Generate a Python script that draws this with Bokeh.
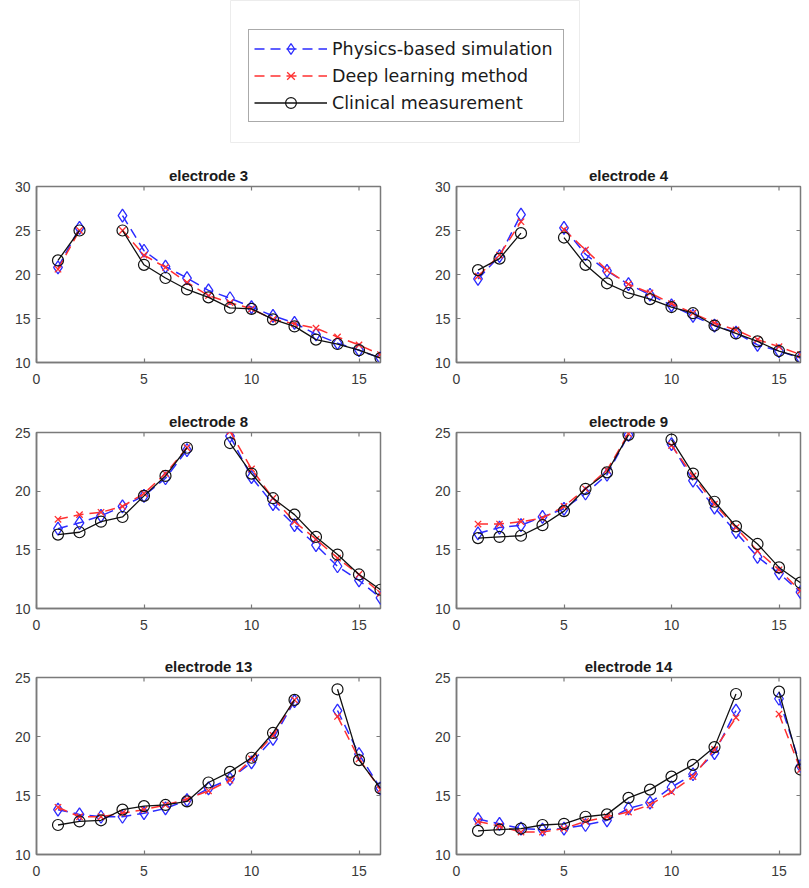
import math
from bokeh.plotting import figure
from bokeh.layouts import column, row, Spacer
from bokeh.models import Range1d, LinearAxis, FixedTicker, Legend, LegendItem
from bokeh.embed import file_html
from bokeh.resources import INLINE

nan = float("nan")

# ---------------- data ----------------
positions = list(range(1, 17))
x_ticks = [0, 5, 10, 15]

series_names = ["Physics-based simulation", "Deep learning method", "Clinical measurement"]

e3_sim  = [20.8, 25.3, nan, 26.7, 22.7, 20.9, 19.6, 18.2, 17.3, 16.3, 15.3, 14.5, 13.2, 12.2, 11.4, 10.5]
e3_dl   = [20.6, 25.0, nan, 25.0, 22.2, 20.8, 19.1, 17.6, 16.8, 16.1, 14.9, 14.4, 13.9, 12.9, 12.0, 10.9]
e3_meas = [21.6, 25.0, nan, 25.0, 21.1, 19.6, 18.3, 17.4, 16.2, 16.1, 14.9, 14.1, 12.6, 12.1, 11.4, 10.5]

e4_sim  = [19.5, 22.1, 26.8, nan, 25.3, 22.3, 20.4, 18.9, 17.7, 16.5, 15.3, 14.2, 13.4, 12.0, 11.3, 10.5]
e4_dl   = [19.8, 22.2, 26.0, nan, 25.1, 22.8, 20.5, 18.9, 17.9, 16.7, 15.6, 14.5, 13.7, 12.6, 11.8, 10.9]
e4_meas = [20.5, 21.8, 24.7, nan, 24.2, 21.1, 19.0, 17.9, 17.2, 16.3, 15.6, 14.2, 13.3, 12.4, 11.3, 10.6]

e8_sim  = [16.8, 17.3, 17.9, 18.7, 19.6, 21.1, 23.5, nan, 24.7, 21.2, 18.9, 17.1, 15.4, 13.6, 12.4, 10.9]
e8_dl   = [17.6, 18.0, 18.2, 18.7, 19.8, 21.5, 23.7, nan, 25.1, 21.9, 19.4, 17.4, 15.9, 14.3, 12.9, 11.3]
e8_meas = [16.3, 16.5, 17.4, 17.8, 19.6, 21.3, 23.7, nan, 24.1, 21.5, 19.4, 18.0, 16.1, 14.6, 12.9, 11.6]

e9_sim  = [16.4, 16.9, 17.1, 17.8, 18.5, 19.8, 21.4, 24.8, nan, 24.0, 20.9, 18.6, 16.5, 14.4, 13.0, 11.4]
e9_dl   = [17.2, 17.2, 17.4, 17.7, 18.7, 20.2, 21.8, 24.9, nan, 23.9, 21.3, 18.9, 16.9, 14.9, 13.3, 11.5]
e9_meas = [16.0, 16.1, 16.2, 17.1, 18.3, 20.2, 21.6, 24.8, nan, 24.4, 21.5, 19.1, 17.0, 15.5, 13.5, 12.2]

e13_sim  = [13.8, 13.4, 13.2, 13.2, 13.5, 13.9, 14.6, 15.6, 16.4, 17.8, 19.8, 23.0, nan, 22.2, 18.5, 15.6]
e13_dl   = [14.0, 13.2, 13.2, 13.5, 13.8, 14.2, 14.7, 15.4, 16.3, 18.1, 20.1, 23.1, nan, 21.7, 18.1, 15.5]
e13_meas = [12.5, 12.8, 12.9, 13.8, 14.1, 14.2, 14.5, 16.1, 17.0, 18.2, 20.3, 23.1, nan, 24.0, 18.0, 15.6]

e14_sim  = [13.0, 12.6, 12.2, 12.1, 12.2, 12.5, 12.9, 13.9, 14.4, 15.7, 16.8, 18.6, 22.2, nan, 23.2, 17.5]
e14_dl   = [12.8, 12.4, 11.9, 11.9, 12.2, 12.8, 13.2, 13.6, 14.2, 15.3, 16.6, 18.9, 21.6, nan, 21.9, 17.2]
e14_meas = [12.0, 12.1, 12.2, 12.5, 12.6, 13.2, 13.4, 14.8, 15.5, 16.6, 17.6, 19.1, 23.6, nan, 23.8, 17.2]

# ---------------- styles ----------------
SIM_COLOR = "#2b2bff"
DL_COLOR = "#ff3030"
MEAS_COLOR = "#111111"
AXIS_COLOR = "#7a7a7a"
LABEL_COLOR = "#3a3a3a"
FONT = "Liberation Sans"
X_MIN, X_MAX, Y_MIN = 0, 16, 10


def style_axis(ax, standoff):
    ax.axis_line_color = AXIS_COLOR
    ax.axis_line_width = 1.5
    ax.major_tick_line_color = AXIS_COLOR
    ax.major_tick_line_width = 1.2
    ax.major_tick_in = 4
    ax.major_tick_out = 0
    ax.minor_tick_line_color = None
    ax.major_label_text_font = FONT
    ax.major_label_text_color = LABEL_COLOR
    ax.major_label_text_font_size = "14px"
    ax.major_label_standoff = standoff


def make_panel(title, sim, dl, meas, ymax, width, height, bl, br, bt, bb):
    p = figure(width=width, height=height,
               x_range=Range1d(X_MIN, X_MAX), y_range=Range1d(Y_MIN, ymax),
               output_backend="svg", toolbar_location=None,
               x_axis_location=None, y_axis_location=None,
               min_border_left=bl, min_border_right=br,
               min_border_top=bt, min_border_bottom=bb)
    p.grid.visible = False
    p.outline_line_color = AXIS_COLOR
    p.outline_line_width = 1.5
    p.background_fill_color = "white"
    p.border_fill_color = "white"

    yt = list(range(Y_MIN, ymax + 1, 5))
    xa = LinearAxis(ticker=FixedTicker(ticks=x_ticks))
    style_axis(xa, 11)
    p.add_layout(xa, "below")
    ya = LinearAxis(ticker=FixedTicker(ticks=yt))
    style_axis(ya, 6)
    p.add_layout(ya, "left")

    # mirrored inward ticks on top and right edges (half of each dash is clipped by the frame)
    p.scatter(x_ticks, [ymax] * len(x_ticks), marker="dash", angle=math.pi / 2, size=8,
              line_color=AXIS_COLOR, line_width=1.2)
    p.scatter([X_MAX] * len(yt), yt, marker="dash", size=8,
              line_color=AXIS_COLOR, line_width=1.2)

    p.title.text = title
    p.title.align = "center"
    p.title.text_font = FONT
    p.title.text_font_style = "bold"
    p.title.text_font_size = "15px"
    p.title.text_color = "#1a1a1a"
    p.title.standoff = 6

    p.line(positions, sim, color=SIM_COLOR, line_width=1.5, line_dash="10 6")
    p.scatter(positions, sim, marker="diamond", size=13, fill_color=None,
              line_color=SIM_COLOR, line_width=1.3)
    p.line(positions, dl, color=DL_COLOR, line_width=1.5, line_dash="10 6")
    p.scatter(positions, dl, marker="x", size=9, line_color=DL_COLOR, line_width=1.3)
    p.line(positions, meas, color=MEAS_COLOR, line_width=1.3)
    p.scatter(positions, meas, marker="circle", size=11, fill_color=None,
              line_color=MEAS_COLOR, line_width=1.2)
    return p


# left column: page x 0..408, frame 36..380 ; right column: page x 408..805, frame 456..800
L = dict(width=408, bl=36, br=28)
R = dict(width=397, bl=48, br=5)

p3 = make_panel("electrode 3", e3_sim, e3_dl, e3_meas, 30, L["width"], 230, L["bl"], L["br"], 26, 28)
p4 = make_panel("electrode 4", e4_sim, e4_dl, e4_meas, 30, R["width"], 230, R["bl"], R["br"], 26, 28)
p8 = make_panel("electrode 8", e8_sim, e8_dl, e8_meas, 25, L["width"], 242, L["bl"], L["br"], 42, 24)
p9 = make_panel("electrode 9", e9_sim, e9_dl, e9_meas, 25, R["width"], 242, R["bl"], R["br"], 42, 24)
p13 = make_panel("electrode 13", e13_sim, e13_dl, e13_meas, 25, L["width"], 248, L["bl"], L["br"], 45, 26)
p14 = make_panel("electrode 14", e14_sim, e14_dl, e14_meas, 25, R["width"], 248, R["bl"], R["br"], 45, 26)

# ---------------- legend panel ----------------
lg = figure(width=350, height=143, x_range=Range1d(0, 1), y_range=Range1d(0, 1),
            output_backend="svg", toolbar_location=None,
            x_axis_location=None, y_axis_location=None, min_border=0)
lg.grid.visible = False
lg.outline_line_color = "#ececec"

r1 = lg.line([nan], [nan], color=SIM_COLOR, line_width=1.5, line_dash="10 6")
s1 = lg.scatter([nan], [nan], marker="diamond", size=13, fill_color=None, line_color=SIM_COLOR, line_width=1.3)
r2 = lg.line([nan], [nan], color=DL_COLOR, line_width=1.5, line_dash="10 6")
s2 = lg.scatter([nan], [nan], marker="x", size=9, line_color=DL_COLOR, line_width=1.3)
r3 = lg.line([nan], [nan], color=MEAS_COLOR, line_width=1.3)
s3 = lg.scatter([nan], [nan], marker="circle", size=11, fill_color=None, line_color=MEAS_COLOR, line_width=1.2)

legend = Legend(items=[LegendItem(label=series_names[0], renderers=[r1, s1]),
                       LegendItem(label=series_names[1], renderers=[r2, s2]),
                       LegendItem(label=series_names[2], renderers=[r3, s3])],
                location=(18, 21))
legend.label_text_font = "DejaVu Sans"
legend.label_text_font_size = "17.5px"
legend.label_text_color = "#1a1a1a"
legend.glyph_width = 73
legend.glyph_height = 27
legend.label_height = 22
legend.label_width = 226
legend.spacing = 0
legend.padding = 5
legend.margin = 0
legend.label_standoff = 5
legend.border_line_color = "#555555"
legend.border_line_width = 1.5
legend.background_fill_color = "white"
lg.add_layout(legend)

layout = column(
    row(Spacer(width=230, height=143), lg),
    Spacer(width=10, height=17),
    row(p3, p4),
    row(p8, p9),
    row(p13, p14),
)

open("out.html", "w").write(file_html(layout, INLINE))
